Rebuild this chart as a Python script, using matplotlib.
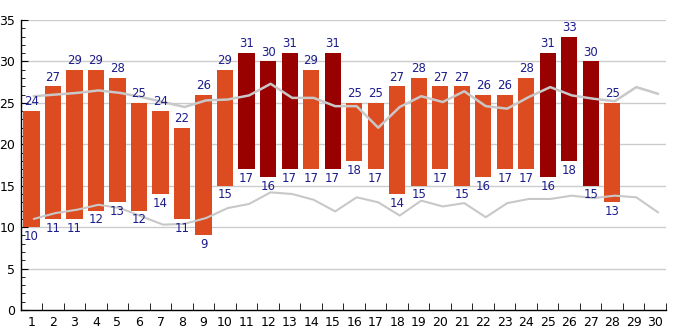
import matplotlib
matplotlib.use("Agg")
import matplotlib.pyplot as plt
import numpy as np

days = list(range(1, 31))
highs = [24, 27, 29, 29, 28, 25, 24, 22, 26, 29, 31, 30, 31, 29, 31, 25, 25, 27, 28, 27,
         27, 26, 26, 28, 31, 33, 30, 25]
lows = [10, 11, 11, 12, 13, 12, 14, 11, 9, 15, 17, 16, 17, 17, 17, 18, 17, 14, 15, 17,
        15, 16, 17, 17, 16, 18, 15, 13]
avg_high = [25.8, 26.0, 26.2, 26.5, 26.2, 25.7, 25.1, 24.5, 25.3, 25.4, 25.9, 27.3, 25.6, 25.6,
            24.6, 24.6, 22.0, 24.5, 25.8, 25.1, 26.4, 24.6, 24.3, 25.7, 26.9, 25.9, 25.5, 25.2,
            26.9, 26.1]
avg_low = [11.0, 11.7, 12.1, 12.7, 12.3, 11.3, 10.3, 10.4, 11.1, 12.3, 12.8, 14.2, 14.0, 13.3,
           11.9, 13.6, 13.0, 11.4, 13.2, 12.5, 12.9, 11.2, 12.9, 13.4, 13.4, 13.8, 13.5, 13.8,
           13.6, 11.8]

fig = plt.figure(figsize=(6.85, 3.3), dpi=100)
ax = fig.add_axes([20.7 / 685, 20 / 330, 645.3 / 685, 290 / 330])

ax.set_ylim(0, 35)
ax.set_xlim(0.5, 30.5)
for y in range(5, 36, 5):
    ax.axhline(y, color="#cccccc", lw=1, zorder=0)

bar_days = days[:len(highs)]
colors = ["#990000" if h >= 30 else "#dd4b21" for h in highs]
heights = [h - l for h, l in zip(highs, lows)]
ax.bar(bar_days, heights, bottom=lows, width=0.75, color=colors, zorder=2)

xl = np.array(days) + 0.12
ax.plot(xl, avg_high, color="#c8c8c8", lw=1.8, zorder=3)
ax.plot(xl, avg_low, color="#c8c8c8", lw=1.5, zorder=3)

lab_col = "#1c1c8c"
for d, h, l in zip(bar_days, highs, lows):
    ax.annotate(str(h), (d, h), xytext=(0, 2), textcoords="offset points",
                ha="center", va="bottom", fontsize=8.5, color=lab_col, zorder=4)
    ax.annotate(str(l), (d, l), xytext=(0, -2), textcoords="offset points",
                ha="center", va="top", fontsize=8.5, color=lab_col, zorder=4)

for s in ["top", "right"]:
    ax.spines[s].set_visible(False)
ax.spines["left"].set_linewidth(1)
ax.spines["bottom"].set_linewidth(1)

ax.set_yticks(range(0, 36, 5))
ax.set_yticks(range(0, 36), minor=True)
ax.tick_params(axis="y", which="major", direction="in", length=5, labelsize=9, pad=4)
ax.tick_params(axis="y", which="minor", direction="in", length=3)

ax.set_xticks(days)
ax.set_xticklabels([str(d) for d in days])
ax.set_xticks(np.arange(0.5, 31, 1), minor=True)
ax.tick_params(axis="x", which="major", length=0, labelsize=9, pad=4)
ax.tick_params(axis="x", which="minor", direction="in", length=5)

fig.savefig("out.png", dpi=100)
